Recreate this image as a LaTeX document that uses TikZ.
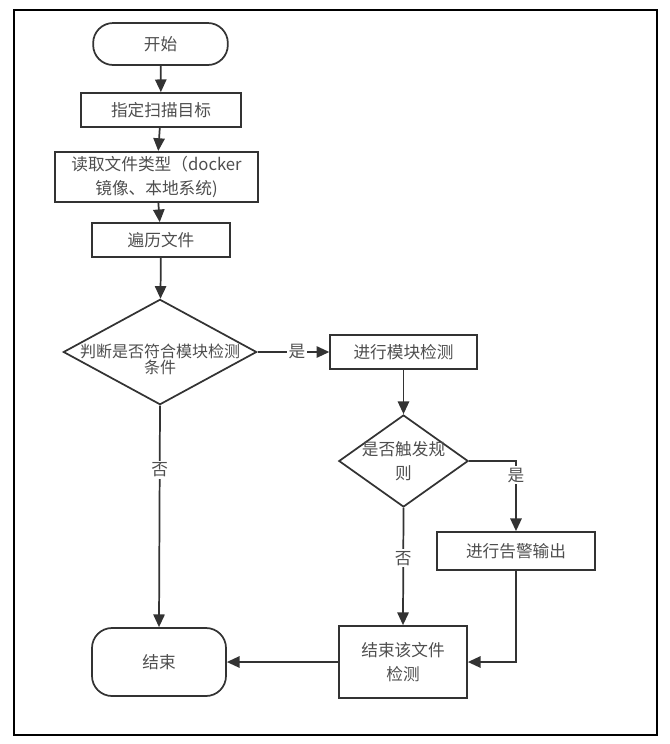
\documentclass[tikz,border=0pt]{standalone}
\usepackage{fontspec}
\setmainfont{Noto Sans CJK SC}
\usetikzlibrary{shapes.geometric,arrows.meta}
\definecolor{linegray}{RGB}{51,51,51}
\definecolor{textgray}{RGB}{78,78,78}

\begin{document}
\begin{tikzpicture}[x=0.75pt,y=-0.75pt,
    every node/.style={font=\fontsize{12.5}{18}\selectfont, text=textgray, align=center},
    term/.style={draw=linegray, line width=1.3pt, rounded corners=15pt},
    proc/.style={draw=linegray, line width=1.3pt},
    decide/.style={draw=linegray, line width=1.3pt, diamond, inner sep=0pt},
    lbl/.style={fill=white, inner sep=1.5pt},
    flow/.style={draw=linegray, line width=1.3pt, -{Triangle[length=9.5pt,width=8.5pt]}}]
  \useasboundingbox (0,0) rectangle (670,744);
  % frame
  \draw[black, line width=1pt] (14,10) rectangle (657,735);
  % left column
  \node[term, minimum width=101pt, minimum height=31.5pt] (start) at (160.5,44) {开始};
  \node[proc, minimum width=120pt, minimum height=25.5pt] (target) at (161,110) {指定扫描目标};
  \node[proc, minimum width=152pt, minimum height=37.5pt] (read) at (156.5,177)
    {读取文件类型（docker\\镜像、本地系统)};
  \node[proc, minimum width=103.5pt, minimum height=25.5pt] (walk) at (161,240) {遍历文件};
  \node[decide, minimum width=145pt, minimum height=79pt] (check) at (160,352) {};
  \node[font=\fontsize{12}{10.5}\selectfont] (checktext) at (160,359) {判断是否符合模块检测\\条件};
  \node[term, minimum width=100.5pt, minimum height=51pt] (stop) at (159,662) {结束};
  % right column
  \node[proc, minimum width=110pt, minimum height=25.5pt] (module) at (403.5,352) {进行模块检测};
  \node[decide, minimum width=97pt, minimum height=69pt] (rule) at (403.5,461) {};
  \node (ruletext) at (403.5,461.5) {是否触发规\\则};
  \node[proc, minimum width=118.5pt, minimum height=28.5pt] (alarm) at (516,551) {进行告警输出};
  \node[proc, minimum width=96pt, minimum height=54pt] (finish) at (403,662) {结束该文件\\检测};
  % connectors
  \draw[flow] (start) -- (target);
  \draw[flow] (target) -- (read);
  \draw[flow] (read) -- (walk);
  \draw[flow] (walk) -- (check);
  \draw[flow] (check.east) -- node[lbl, pos=0.55] {是} (module.west);
  \draw[flow] (check.south) -- node[lbl, pos=0.29] {否} (stop.north);
  \draw[flow] (module) -- (rule.north);
  \draw[flow] (rule.east) -| node[lbl, pos=0.6] {是} (alarm.north);
  \draw[flow] (rule.south) -- node[lbl, pos=0.43] {否} (finish.north);
  \draw[flow] (alarm.south) |- (finish.east);
  \draw[flow] (finish.west) -- (stop.east);
\end{tikzpicture}
\end{document}
